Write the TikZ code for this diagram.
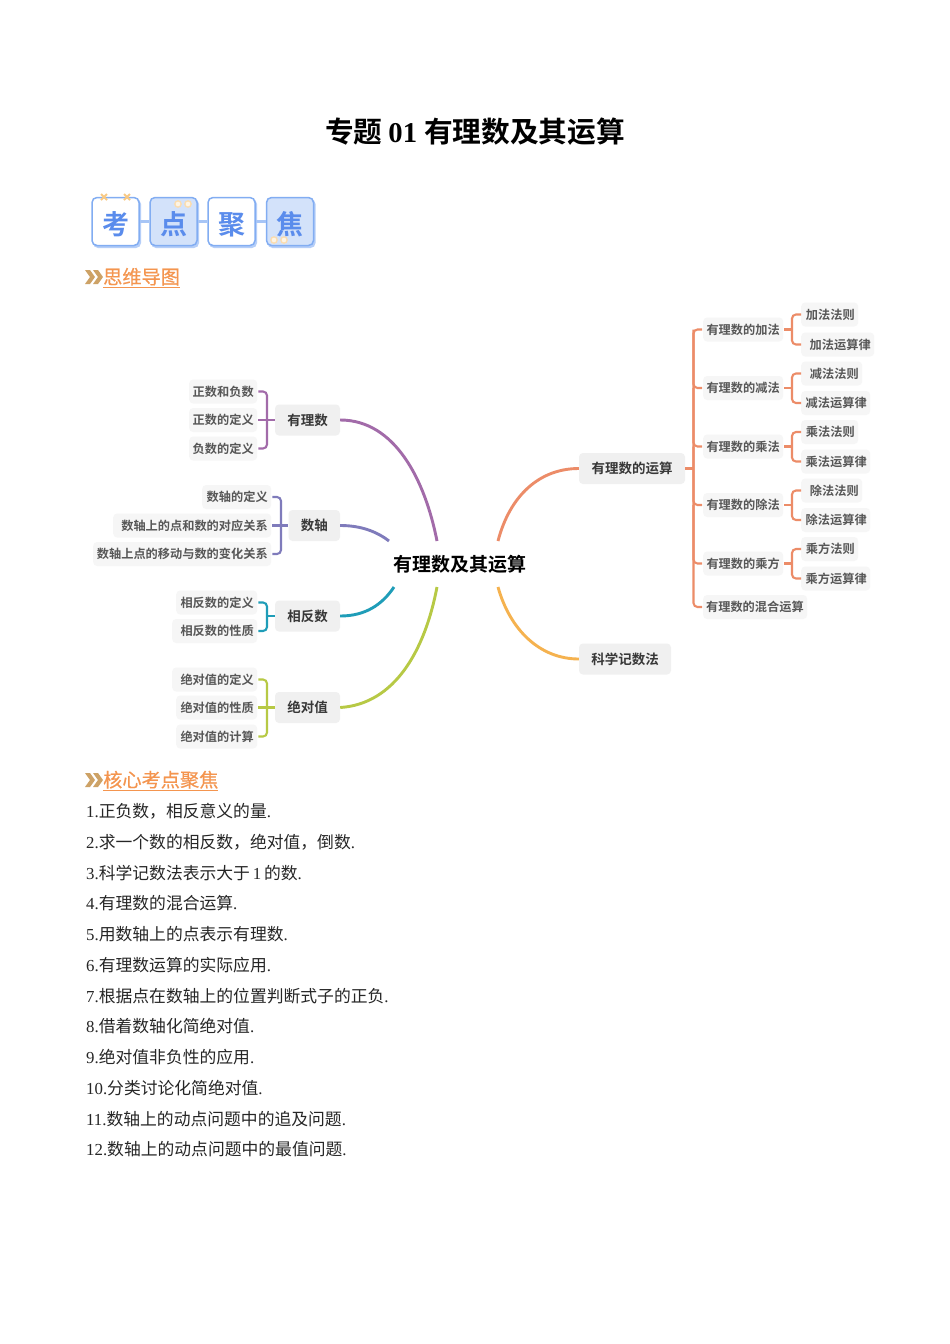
\documentclass[tikz,border=0pt]{standalone}
\usepackage{fontspec}
\setmainfont{Liberation Serif}
\newfontfamily\cjk{Noto Sans CJK SC}[BoldFont={* Bold}]
\newfontfamily\cjkh{Noto Sans CJK SC}[FakeBold=0.5]
\definecolor{cPur}{HTML}{A26BA9}
\definecolor{cInd}{HTML}{7F7BBB}
\definecolor{cTea}{HTML}{1F9DB8}
\definecolor{cOli}{HTML}{B7C945}
\definecolor{cOra}{HTML}{EC8C68}
\definecolor{cYel}{HTML}{F5B24F}
\definecolor{cBlu}{HTML}{6C9EF0}
\definecolor{cBluT}{HTML}{5A8CEC}
\definecolor{cHead}{HTML}{F4954F}
\definecolor{cChev}{HTML}{CDA266}
\tikzset{
  lvone/.style={fill=black!6,rounded corners=4,inner xsep=0,inner ysep=0,minimum height=31,font=\cjk\bfseries\fontsize{13.5}{15}\selectfont,text=black!78},
  lvtwo/.style={fill=black!3.5,rounded corners=4,inner xsep=3.5,inner ysep=0,minimum height=24,font=\cjk\bfseries\fontsize{12.2}{14}\selectfont,text=black!66,align=right},
  brk/.style={line width=2.1,rounded corners=4},
  bough/.style={line width=2.9},
  badge/.style={draw=cBlu!85,line width=1.5,rounded corners=5,minimum width=47,minimum height=48,inner sep=0,font=\cjk\bfseries\fontsize{27}{29}\selectfont,text=cBluT},
  bshadow/.style={fill=cBlu!50,rounded corners=5,minimum width=48,minimum height=49,inner sep=0},
  item/.style={anchor=base west,inner sep=0,font=\fontsize{16.8}{20}\selectfont,text=black!85},
  headtxt/.style={anchor=base west,inner sep=0,font=\cjkh\fontsize{19.2}{22}\selectfont,text=cHead},
}
% #1 name, #2 left, #3 right, #4 y, #5 text
\newcommand{\leaf}[5]{\pgfmathsetmacro{\leafw}{#3-#2-7}\node[lvtwo,text width=\leafw pt,anchor=west] (#1) at (#2,#4+0.5) {\makebox[\linewidth][r]{#5}};}
\newcommand{\chev}[2]{\fill[cChev] (#1,#2-7) -- (#1+5,#2-7) -- (#1+10,#2) -- (#1+5,#2+7) -- (#1,#2+7) -- (#1+5,#2) -- cycle;}
\newcommand{\blift}[1]{\raisebox{-12.8pt}[0pt][0pt]{#1}}
\begin{document}
\begin{tikzpicture}[x=1pt,y=-1pt]
\useasboundingbox (0,0) rectangle (950,1344);
\fill[white] (0,0) rectangle (950,1344);
% title
\node[anchor=base,inner sep=0,font=\bfseries\fontsize{28.7}{32}\selectfont] (title) at (475,142) {{\cjk 专题}\hspace{6pt}01\hspace{7pt}{\cjk 有理数及其运算}};
% badge
\foreach \n/\x in {a/115.5,b/173.5,c/231.5,d/290}{\node[bshadow] at (\x+1.5,223.5) {};}
\node[badge,fill=white] (ba) at (115.5,221.5) {\blift{考}};
\node[badge,fill=cBlu!30] (bb) at (173.5,221.5) {\blift{点}};
\node[badge,fill=white] (bc) at (231.5,221.5) {\blift{聚}};
\node[badge,fill=cBlu!30] (bd) at (290,221.5) {\blift{焦}};
\draw[cBlu!60,line width=3] (ba) -- (bb);
\draw[cBlu!60,line width=3] (bb) -- (bc);
\draw[cBlu!60,line width=3] (bc) -- (bd);
\foreach \x in {104,127}{\draw[cYel!70,line width=1.8] (\x-3,194) -- (\x+3,200) (\x-3,200) -- (\x+3,194);}
\foreach \x/\y in {178/204,188/204,274/240,284/240}{\fill[cYel!45] (\x,\y) circle (3.9);\fill[white!85!cYel] (\x,\y) circle (2.3);}
% headings
\chev{85}{277}\chev{93}{277}
\node[headtxt] (h1) at (103,284) {\underline{思维导图}};
\chev{85}{780}\chev{93}{780}
\node[headtxt] (h2) at (103,787) {\underline{核心考点聚焦}};
% root
\node[inner sep=0,font=\cjk\bfseries\fontsize{19}{21}\selectfont] (root) at (459.5,564) {有理数及其运算};
\coordinate (rA) at (437,541);\coordinate (rB) at (389,541);\coordinate (rC) at (394,587);\coordinate (rD) at (437,587);\coordinate (rE) at (498,541);\coordinate (rF) at (498,587);
% level 1
\node[lvone,minimum width=65] (n1) at (307.5,420) {有理数};
\node[lvone,minimum width=51.5] (n2) at (314.25,525.5) {数轴};
\node[lvone,minimum width=65] (n3) at (307.5,616) {相反数};
\node[lvone,minimum width=65] (n4) at (307.5,707.5) {绝对值};
\node[lvone,minimum width=106] (n5) at (632,468.5) {有理数的运算};
\node[lvone,minimum width=92] (n6) at (625,659) {科学记数法};
% boughs
\draw[bough,cPur] (n1.east) .. controls (395,420) and (425,480) .. (rA);
\draw[bough,cInd] (n2.east) .. controls (360,525.5) and (376,531) .. (rB);
\draw[bough,cTea] (n3.east) .. controls (365,616) and (382,605) .. (rC);
\draw[bough,cOli] (n4.east) .. controls (395,704) and (425,650) .. (rD);
\draw[bough,cOra] (rE) .. controls (510,495) and (540,468.5) .. (n5.west);
\draw[bough,cYel] (rF) .. controls (510,630) and (540,659) .. (n6.west);
% left leaves
\leaf{a1}{189}{257}{391}{正数和负数}
\leaf{a2}{189}{257}{419.5}{正数的定义}
\leaf{a3}{189}{257}{448}{负数的定义}
\coordinate (ha) at (267,420);
\draw[brk,cPur] ([xshift=1]a1.east) -| (ha) |- ([xshift=1]a3.east);
\draw[brk,cPur] ([xshift=1]a2.east) -- (n1.west);
\leaf{b1}{202}{271}{496.5}{数轴的定义}
\leaf{b2}{113}{271}{525}{数轴上的点和数的对应关系}
\leaf{b3}{93}{271}{553.5}{数轴上点的移动与数的变化关系}
\coordinate (hb) at (281,525.5);
\draw[brk,cInd] ([xshift=1]b1.east) -| (hb) |- ([xshift=1]b3.east);
\draw[brk,cInd] ([xshift=1]b2.east) -- (n2.west);
\leaf{c1}{176}{257}{602}{相反数的定义}
\leaf{c2}{172}{257}{630.5}{相反数的性质}
\coordinate (hc) at (267,616);
\draw[brk,cTea] ([xshift=1]c1.east) -| (hc) |- ([xshift=1]c2.east);
\draw[brk,cTea] (hc) -- (n3.west);
\leaf{d1}{172}{257}{679}{绝对值的定义}
\leaf{d2}{176}{257}{707}{绝对值的性质}
\leaf{d3}{176}{257}{736}{绝对值的计算}
\coordinate (hd) at (267,707.5);
\draw[brk,cOli] ([xshift=1]d1.east) -| (hd) |- ([xshift=1]d3.east);
\draw[brk,cOli] ([xshift=1]d2.east) -- (n4.west);
% right level 2
\leaf{e1}{703}{783}{329}{有理数的加法}
\leaf{e2}{703}{783}{387.5}{有理数的减法}
\leaf{e3}{703}{783}{446}{有理数的乘法}
\leaf{e4}{703}{783}{504.5}{有理数的除法}
\leaf{e5}{703}{783}{563}{有理数的乘方}
\leaf{e6}{703}{807}{606.5}{有理数的混合运算}
\coordinate (he) at (693.5,468.5);
\draw[brk,cOra] (n5.east) -- (he);
\draw[brk,cOra] ([xshift=-1]e1.west) -| (he) |- ([xshift=-1]e6.west);
\draw[brk,cOra] (he |- e1.west) |- ([xshift=-1]e2.west);
\draw[brk,cOra] (he |- e2.west) |- ([xshift=-1]e3.west);
\draw[brk,cOra] (he |- e3.west) |- ([xshift=-1]e4.west);
\draw[brk,cOra] (he |- e4.west) |- ([xshift=-1]e5.west);
% right leaves
\leaf{f1}{801}{858}{314}{加法法则}
\leaf{f2}{801}{874}{344}{加法运算律}
\leaf{g1}{801}{862}{373}{减法法则}
\leaf{g2}{801}{870}{402.5}{减法运算律}
\leaf{i1}{801}{858}{431.5}{乘法法则}
\leaf{i2}{801}{870}{461}{乘法运算律}
\leaf{j1}{801}{862}{490}{除法法则}
\leaf{j2}{801}{870}{519.5}{除法运算律}
\leaf{k1}{801}{858}{548.5}{乘方法则}
\leaf{k2}{801}{870}{578}{乘方运算律}
\coordinate (hf) at (792,329.5);\coordinate (hg) at (792,388);\coordinate (hi) at (792,446.5);\coordinate (hj) at (792,505);\coordinate (hk) at (792,563.5);
\draw[brk,cOra] (f1.west) -| (hf) |- (f2.west);\draw[brk,cOra] ([xshift=1]e1.east) -- (hf);
\draw[brk,cOra] (g1.west) -| (hg) |- (g2.west);\draw[brk,cOra] ([xshift=1]e2.east) -- (hg);
\draw[brk,cOra] (i1.west) -| (hi) |- (i2.west);\draw[brk,cOra] ([xshift=1]e3.east) -- (hi);
\draw[brk,cOra] (j1.west) -| (hj) |- (j2.west);\draw[brk,cOra] ([xshift=1]e4.east) -- (hj);
\draw[brk,cOra] (k1.west) -| (hk) |- (k2.west);\draw[brk,cOra] ([xshift=1]e5.east) -- (hk);
% list
\node[item] (l1) at (86,817.5) {1.{\cjk 正负数，相反意义的量}.};
\node[item] (l2) at (86,848.3) {2.{\cjk 求一个数的相反数，绝对值，倒数}.};
\node[item] (l3) at (86,879) {3.{\cjk 科学记数法表示大于}\,1\,{\cjk 的数}.};
\node[item] (l4) at (86,909.8) {4.{\cjk 有理数的混合运算}.};
\node[item] (l5) at (86,940.5) {5.{\cjk 用数轴上的点表示有理数}.};
\node[item] (l6) at (86,971.3) {6.{\cjk 有理数运算的实际应用}.};
\node[item] (l7) at (86,1002) {7.{\cjk 根据点在数轴上的位置判断式子的正负}.};
\node[item] (l8) at (86,1032.8) {8.{\cjk 借着数轴化简绝对值}.};
\node[item] (l9) at (86,1063.5) {9.{\cjk 绝对值非负性的应用}.};
\node[item] (l10) at (86,1094.3) {10.{\cjk 分类讨论化简绝对值}.};
\node[item] (l11) at (86,1125) {11.{\cjk 数轴上的动点问题中的追及问题}.};
\node[item] (l12) at (86,1155.8) {12.{\cjk 数轴上的动点问题中的最值问题}.};
\end{tikzpicture}
\end{document}
